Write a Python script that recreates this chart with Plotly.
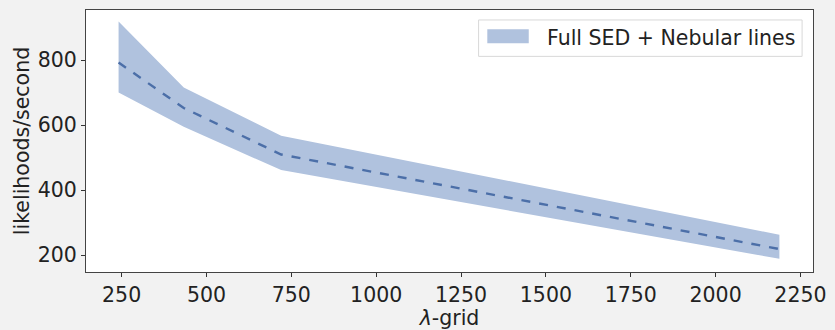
import plotly.graph_objects as go

lam_grid = [241, 433, 720, 2188]
mean_rate = [793, 653, 510, 219]
upper_rate = [919, 716, 568, 263]
lower_rate = [701, 595, 462, 189]
x_ticks = [250, 500, 750, 1000, 1250, 1500, 1750, 2000, 2250]
y_ticks = [200, 400, 600, 800]
legend_label = "Full SED + Nebular lines"

FONT = "DejaVu Sans"
FILL = "rgb(176,194,222)"
FS = 20.5

fig = go.Figure()
fig.add_trace(go.Scatter(
    x=lam_grid + lam_grid[::-1],
    y=upper_rate + lower_rate[::-1],
    fill="toself", mode="lines",
    line=dict(width=0, color="rgba(0,0,0,0)"),
    fillcolor=FILL, name=legend_label, showlegend=False, hoverinfo="skip"))
fig.add_trace(go.Scatter(
    x=lam_grid, y=mean_rate, mode="lines",
    line=dict(color="#4c6fa8", width=2.4, dash="dash"),
    showlegend=False))

# manual legend (matplotlib style box with patch)
fig.add_shape(type="rect", xref="paper", yref="paper",
              x0=0.540, x1=0.985, y0=0.823, y1=0.962,
              line=dict(color="#d8d8d8", width=1), fillcolor="rgba(255,255,255,0.85)")
fig.add_shape(type="rect", xref="paper", yref="paper",
              x0=0.552, x1=0.609, y0=0.873, y1=0.927,
              line=dict(width=0), fillcolor=FILL)
fig.add_annotation(xref="paper", yref="paper", x=0.6315, y=0.894,
                   xanchor="left", yanchor="middle", showarrow=False,
                   text=legend_label, font=dict(family=FONT, size=FS, color="#222"))

fig.update_layout(
    width=835, height=330,
    margin=dict(l=86, r=14, t=9, b=55),
    paper_bgcolor="#f2f2f2", plot_bgcolor="white",
    font=dict(family=FONT, size=FS, color="#222"),
    showlegend=False,
)
fig.update_xaxes(range=[145, 2287], tickvals=x_ticks, ticks="outside", ticklen=4,
                 tickcolor="#333", showgrid=False, zeroline=False,
                 showline=True, linecolor="#444", linewidth=1, mirror=True,
                 title=dict(text="<i>λ</i>-grid", standoff=0, font=dict(size=FS)))
fig.update_yaxes(range=[148.5, 954.5], tickvals=y_ticks, ticks="outside", ticklen=4,
                 tickcolor="#333", showgrid=False, zeroline=False,
                 showline=True, linecolor="#444", linewidth=1, mirror=True,
                 title=dict(text="likelihoods/second", standoff=2, font=dict(size=FS)))
fig.write_html("out.html")
